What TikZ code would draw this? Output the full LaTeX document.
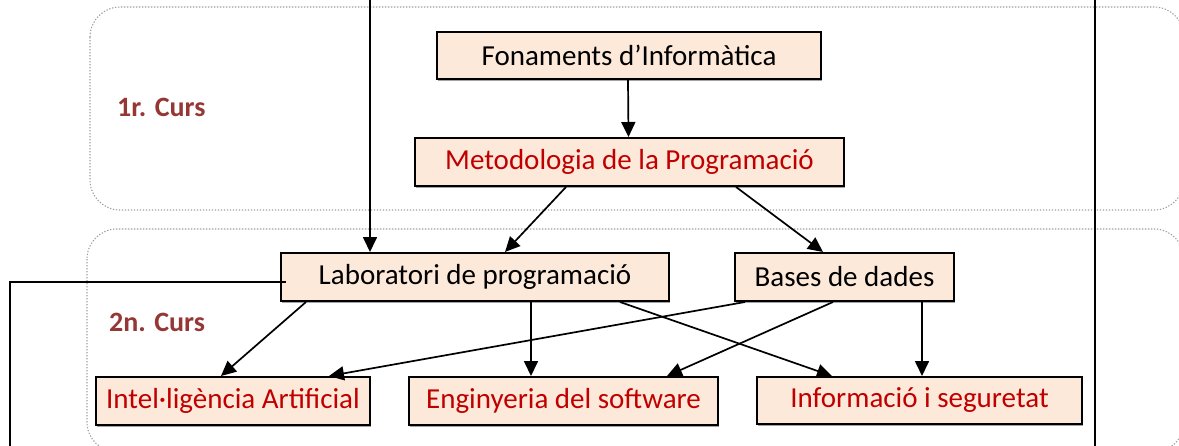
\documentclass[tikz,border=0pt]{standalone}
\usepackage{fontspec}
\setmainfont{Carlito}
\usetikzlibrary{arrows.meta,shadows}
\definecolor{peach}{HTML}{FDE9D9}
\definecolor{redtxt}{HTML}{C00000}
\definecolor{curscol}{HTML}{953735}
\tikzset{
  subj/.style={draw=black, line width=2pt, fill=peach, inner sep=0pt, anchor=center,
    drop shadow={shadow xshift=1pt, shadow yshift=-1.5pt, fill=black!45, opacity=0.8},
    font=\fontsize{29}{34}\selectfont},
  redsubj/.style={subj, text=redtxt},
  conn/.style={line width=1.7pt, -{Triangle[length=15pt,width=14pt]}},
  plain/.style={line width=1.7pt},
  cursbox/.style={draw=black!38, line width=1.1pt, dash pattern=on 1.3pt off 1.7pt, rounded corners=30pt},
  curslabel/.style={text=curscol, font=\bfseries\fontsize{28}{32}\selectfont, anchor=west, inner sep=0pt}
}
\begin{document}
\begin{tikzpicture}[x=1pt,y=-1pt]
\useasboundingbox (0,0) rectangle (1179,445);
% course areas
\draw[cursbox] (90,7) rectangle (1184,210);
\draw[cursbox] (87,229) rectangle (1184,452);
\node[curslabel] (c1) at (117,107) {1r. Curs};
\node[curslabel] (c2) at (109,322) {2n. Curs};
% subjects
\node[subj, minimum width=384pt, minimum height=47pt] (fon) at (629,55.5) {Fonaments d’Informàtica};
\node[redsubj, minimum width=429pt, minimum height=48pt] (met) at (629.5,162) {Metodologia de la Programació};
\node[subj, minimum width=388pt, minimum height=48pt] (lab) at (475,277) {Laboratori de programació};
\node[subj, minimum width=219pt, minimum height=48pt] (bd) at (844.5,277) {Bases de dades};
\node[redsubj, minimum width=274pt, minimum height=48pt] (ia) at (233,401) {Intel·ligència Artificial};
\node[redsubj, minimum width=309pt, minimum height=48pt] (es) at (563.5,401) {Enginyeria del software};
\node[redsubj, minimum width=325pt, minimum height=47pt] (is) at (919.5,400.5) {Informació i seguretat};
% free ends
\coordinate (topin) at (370,0);
\coordinate (rtop) at (1095,0);
\coordinate (rbot) at (1095,447);
\coordinate (lcorner) at (10,282);
\coordinate (lbot) at (10,447);
% connectors
\draw[conn] ([xshift=-1pt]fon.south) -- ([xshift=-1pt]met.north);
\draw[conn] ([xshift=-63.5pt]met.south) -- ([xshift=30pt]lab.north);
\draw[conn] ([xshift=106.5pt]met.south) -- ([xshift=-21.5pt]bd.north);
\draw[conn] (topin) -- ([xshift=-105pt]lab.north);
\draw[plain] ([xshift=6pt,yshift=-5pt]lab.west) -- (lcorner) -- (lbot);
\draw[plain] (rtop) -- (rbot);
\draw[conn] ([xshift=-169pt]lab.south) -- ([xshift=-12pt]ia.north);
\draw[conn] ([xshift=-99.5pt]bd.south) -- ([xshift=96pt]ia.north);
\draw[conn] ([xshift=56pt]lab.south) -- ([xshift=-32.5pt]es.north);
\draw[conn] ([xshift=145pt]lab.south) -- ([xshift=-87.5pt]is.north);
\draw[conn] ([xshift=-11.5pt]bd.south) -- ([xshift=103.5pt]es.north);
\draw[conn] ([xshift=77.5pt]bd.south) -- ([xshift=2.5pt]is.north);
\end{tikzpicture}
\end{document}
